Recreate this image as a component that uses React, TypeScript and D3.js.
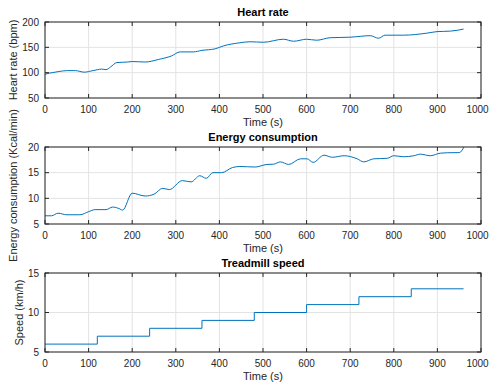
import React, { useEffect, useRef } from 'react';
import * as d3 from 'd3';

// heart rate (bpm) over time (s)
const hrTime = [0, 10, 30, 50, 70, 90, 110, 130, 140, 150, 165, 190, 200, 230, 260, 290, 310, 340, 360, 390, 410, 447, 470, 501, 547, 570, 600, 623, 654, 700, 746, 765, 780, 822, 876, 899, 930, 960];
const hrValue = [97, 99, 102, 104, 104, 101, 104, 107, 106, 111, 120, 121, 122, 121, 126, 133, 141, 141, 144, 147, 153, 159, 161, 160, 166, 162, 166, 164, 169, 170, 173, 168, 174, 174, 178, 181, 182, 186];

// energy consumption (Kcal/min)
const enTime = [0, 15, 30, 50, 80, 100, 115, 140, 155, 170, 178, 200, 230, 250, 270, 285, 315, 335, 355, 370, 385, 405, 430, 447, 482, 509, 524, 540, 559, 586, 601, 615, 640, 659, 686, 716, 731, 754, 785, 800, 823, 846, 861, 884, 907, 938, 950, 961];
const enValue = [6.6, 6.6, 7.1, 6.8, 6.8, 7.4, 7.8, 7.8, 8.3, 8.0, 7.7, 11.0, 10.45, 10.8, 11.95, 11.7, 13.45, 13.2, 14.4, 13.9, 15.0, 15.0, 16.0, 16.2, 16.1, 16.6, 16.65, 17.1, 16.6, 17.7, 17.7, 17.0, 18.4, 18.0, 18.3, 17.7, 17.1, 17.7, 17.8, 18.3, 18.1, 18.3, 18.6, 18.3, 18.8, 18.9, 18.9, 20.0];

// treadmill speed (km/h), step changes
const spTime = [0, 120, 240, 360, 480, 600, 720, 840, 960];
const spValue = [6, 7, 8, 9, 10, 11, 12, 13, 13];

const xTicks = [0, 100, 200, 300, 400, 500, 600, 700, 800, 900, 1000];

const panels = [
  { title: 'Heart rate', ylabel: 'Heart rate (bpm)', labelX: 13, top: 22, bottom: 98, yDomain: [50, 200], yTicks: [50, 100, 150, 200], t: hrTime, v: hrValue, step: false },
  { title: 'Energy consumption', ylabel: 'Energy consumption (Kcal/min)', labelX: 13, top: 147, bottom: 224, yDomain: [5, 20], yTicks: [5, 10, 15, 20], t: enTime, v: enValue, step: false },
  { title: 'Treadmill speed', ylabel: 'Speed (km/h)', labelX: 19, top: 273, bottom: 352, yDomain: [5, 15], yTicks: [5, 10, 15], t: spTime, v: spValue, step: true },
];

const App: React.FC = () => {
  const svgRef = useRef<SVGSVGElement | null>(null);

  useEffect(() => {
    if (!svgRef.current) return;
    const svg = d3.select(svgRef.current);
    svg.selectAll('*').remove();

    const left = 45;
    const right = 481;
    const font = 'Liberation Sans, Arial, sans-serif';
    const x = d3.scaleLinear().domain([0, 1000]).range([left, right]);

    panels.forEach(p => {
      const y = d3.scaleLinear().domain(p.yDomain).range([p.bottom, p.top]);
      const g = svg.append('g');

      g.append('rect')
        .attr('x', left).attr('y', p.top)
        .attr('width', right - left).attr('height', p.bottom - p.top)
        .attr('fill', '#fff');

      // grid
      xTicks.forEach(t => {
        g.append('line')
          .attr('x1', x(t)).attr('x2', x(t)).attr('y1', p.top).attr('y2', p.bottom)
          .attr('stroke', '#e3e3e3').attr('stroke-width', 1);
      });
      p.yTicks.forEach(t => {
        g.append('line')
          .attr('x1', left).attr('x2', right).attr('y1', y(t)).attr('y2', y(t))
          .attr('stroke', '#e3e3e3').attr('stroke-width', 1);
      });

      // data line
      const pts: [number, number][] = p.t.map((t, i) => [t, p.v[i]]);
      const line = d3.line<[number, number]>()
        .x(d => x(d[0])).y(d => y(d[1]))
        .curve(p.step ? d3.curveStepAfter : d3.curveMonotoneX);
      g.append('path')
        .datum(pts)
        .attr('fill', 'none')
        .attr('stroke', '#0072BD')
        .attr('stroke-width', 1)
        .attr('d', line);

      // box
      g.append('rect')
        .attr('x', left).attr('y', p.top)
        .attr('width', right - left).attr('height', p.bottom - p.top)
        .attr('fill', 'none').attr('stroke', '#262626').attr('stroke-width', 1);

      // ticks (inward, both sides)
      xTicks.forEach(t => {
        g.append('line').attr('x1', x(t)).attr('x2', x(t)).attr('y1', p.bottom).attr('y2', p.bottom - 4)
          .attr('stroke', '#262626');
        g.append('line').attr('x1', x(t)).attr('x2', x(t)).attr('y1', p.top).attr('y2', p.top + 4)
          .attr('stroke', '#262626');
        g.append('text')
          .attr('x', t === 1000 ? Math.min(x(t), 489 - 11.5) : x(t)).attr('y', p.bottom + 15)
          .attr('text-anchor', 'middle')
          .attr('font-family', font).attr('font-size', 10).attr('fill', '#262626')
          .text(t);
      });
      p.yTicks.forEach(t => {
        g.append('line').attr('x1', left).attr('x2', left + 4).attr('y1', y(t)).attr('y2', y(t))
          .attr('stroke', '#262626');
        g.append('line').attr('x1', right).attr('x2', right - 4).attr('y1', y(t)).attr('y2', y(t))
          .attr('stroke', '#262626');
        g.append('text')
          .attr('x', left - 6).attr('y', y(t) + 3.5)
          .attr('text-anchor', 'end')
          .attr('font-family', font).attr('font-size', 10).attr('fill', '#262626')
          .text(t);
      });

      // title
      g.append('text')
        .attr('x', (left + right) / 2).attr('y', p.top - 6)
        .attr('text-anchor', 'middle')
        .attr('font-family', font).attr('font-size', 11).attr('font-weight', 'bold').attr('fill', '#000')
        .text(p.title);

      // x label
      g.append('text')
        .attr('x', (left + right) / 2).attr('y', p.bottom + 28)
        .attr('text-anchor', 'middle')
        .attr('font-family', font).attr('font-size', 11).attr('fill', '#262626')
        .text('Time (s)');

      // y label
      const cy = (p.top + p.bottom) / 2;
      g.append('text')
        .attr('transform', `translate(${p.labelX + 4},${cy}) rotate(-90)`)
        .attr('text-anchor', 'middle')
        .attr('font-family', font).attr('font-size', 11).attr('fill', '#262626')
        .text(p.ylabel);
    });
  }, []);

  return (
    <svg
      ref={svgRef}
      width={489}
      height={385}
      style={{ position: 'absolute', left: 0, top: 0, background: '#fff' }}
    />
  );
};

export default App;
